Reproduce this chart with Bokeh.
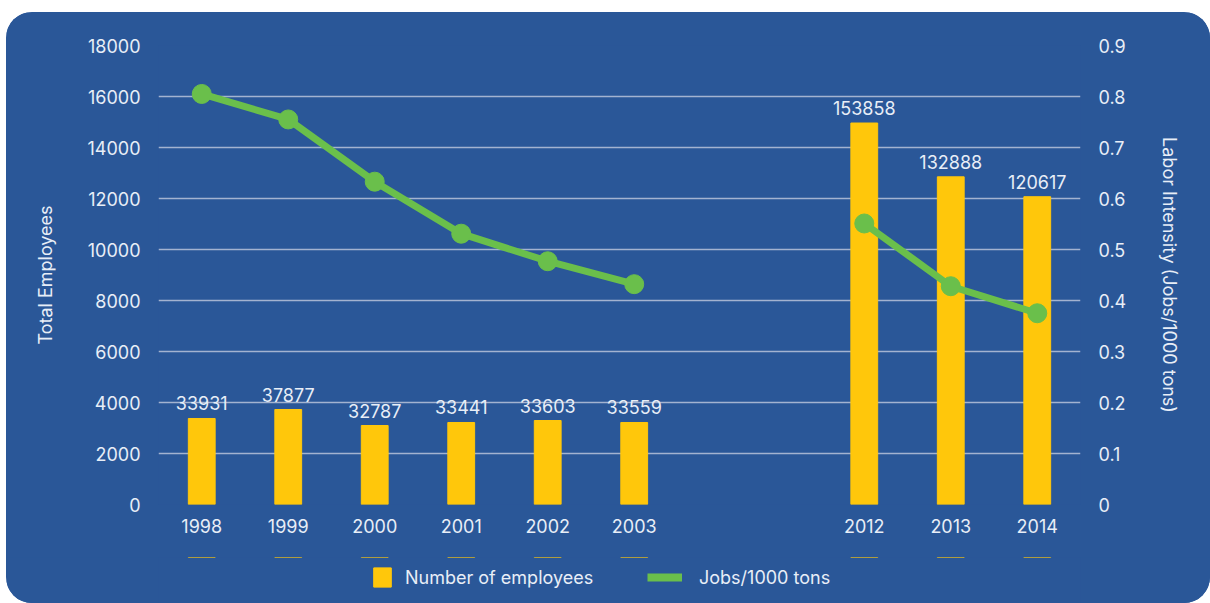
from bokeh.plotting import figure
from bokeh.layouts import column
from bokeh.models import (ColumnDataSource, FactorRange, Range1d, LinearAxis,
                          FixedTicker, CustomJSTickFormatter, Legend, LegendItem)
from bokeh.core.properties import value
from bokeh.embed import file_html
from bokeh.resources import INLINE

# ---- data ----
periods = ["A", "A", "A", "A", "A", "A", "B", "B", "B"]
years = ["1998", "1999", "2000", "2001", "2002", "2003", "2012", "2013", "2014"]
bar_heights = [3373, 3725, 3098, 3216, 3294, 3216, 14960, 12850, 12070]
employee_labels = ["33931", "37877", "32787", "33441", "33603", "33559",
                   "153858", "132888", "120617"]
jobs_per_1000t = [0.805, 0.755, 0.633, 0.531, 0.477, 0.432, 0.551, 0.428, 0.375]
left_ticks = [0, 2000, 4000, 6000, 8000, 10000, 12000, 14000, 16000, 18000]
right_ticks = [0, 0.1, 0.2, 0.3, 0.4, 0.5, 0.6, 0.7, 0.8, 0.9]
legend_labels = ["Number of employees", "Jobs/1000 tons"]

BG = "#2a5798"
YELLOW = "#ffc70b"
GREEN = "#6abf4b"
TXT = "#e8eef7"
GRID = "#a3b3d0"
FONT = "Inter"
FS = "18px"

x = list(zip(periods, years))
src = ColumnDataSource(dict(x=x, h=bar_heights, lab=employee_labels, j=jobs_per_1000t))

p = figure(width=1204, height=545, output_backend="svg", toolbar_location=None,
           x_range=FactorRange(factors=x, group_padding=1.66, range_padding=0),
           y_range=Range1d(0, 18000),
           min_border_left=152, min_border_right=130, min_border_top=33,
           min_border_bottom=53)
p.background_fill_color = BG
p.border_fill_color = BG
p.outline_line_color = None
p.extra_y_ranges = {"right": Range1d(0, 0.9)}

bars = p.vbar(x="x", top="h", width=0.31, source=src, color=YELLOW)
p.text(x="x", y="h", text="lab", source=src, text_align="center",
       text_baseline="bottom", y_offset=-8, text_color=TXT,
       text_font=value(FONT), text_font_size=FS)

for per in ["A", "B"]:
    idx = [i for i, pp in enumerate(periods) if pp == per]
    s = ColumnDataSource(dict(x=[x[i] for i in idx], j=[jobs_per_1000t[i] for i in idx]))
    p.line(x="x", y="j", source=s, y_range_name="right", line_color=GREEN, line_width=7)
    p.scatter(x="x", y="j", source=s, y_range_name="right", size=19, color=GREEN)

# axes
p.yaxis.ticker = FixedTicker(ticks=left_ticks)
p.yaxis.axis_label = "Total Employees"
ax_r = LinearAxis(y_range_name="right", axis_label="Labor Intensity (Jobs/1000 tons)",
                  ticker=FixedTicker(ticks=right_ticks),
                  formatter=CustomJSTickFormatter(code="return String(Math.round(tick*10)/10)"))
p.add_layout(ax_r, "right")

for ax in [p.yaxis[0], ax_r, p.xaxis[0]]:
    ax.axis_line_color = None
    ax.major_tick_line_color = None
    ax.minor_tick_line_color = None
    ax.major_label_text_color = TXT
    ax.major_label_text_font = FONT
    ax.major_label_text_font_size = FS
    ax.axis_label_text_color = TXT
    ax.axis_label_text_font = FONT
    ax.axis_label_text_font_size = FS
    ax.axis_label_text_font_style = "normal"

p.yaxis[0].major_label_standoff = 12
p.yaxis[0].axis_label_standoff = 28
ax_r.major_label_standoff = 12
ax_r.axis_label_standoff = 30
p.xaxis[0].major_label_standoff = 8
p.xaxis[0].group_text_font_size = "0px"
p.xaxis[0].group_text_color = None
p.xaxis[0].separator_line_color = None

p.xgrid.grid_line_color = None
p.ygrid.grid_line_color = GRID
p.ygrid.grid_line_width = 1.5

# legend strip (separate figure below the chart; its proxy marks sit far outside its view)
q = figure(width=1204, height=46, output_backend="svg", toolbar_location=None,
           x_range=p.x_range, y_range=Range1d(-2, -1),
           x_axis_type=None, y_axis_type=None, min_border=0)
q.background_fill_color = BG
q.border_fill_color = BG
q.outline_line_color = None
q.xgrid.visible = False
q.ygrid.visible = False
lb = q.vbar(x="x", top="h", bottom="h", width=0.31, source=src, color=YELLOW)
ll = q.line(x="x", y="h", source=src, line_color=GREEN, line_width=8)

common = dict(padding=0, margin=0, border_line_color=None, background_fill_alpha=0,
              label_text_color=TXT, label_text_font=FONT, label_text_font_size=FS,
              glyph_height=24)
leg1 = Legend(items=[LegendItem(label=legend_labels[0], renderers=[lb])],
              location=(213, 14), glyph_width=22, label_standoff=12, **common)
leg2 = Legend(items=[LegendItem(label=legend_labels[1], renderers=[ll])],
              location=(489, 14), glyph_width=35, label_standoff=17, **common)
q.add_layout(leg1, "center")
q.add_layout(leg2, "center")

lay = column(p, q, spacing=0)
lay.styles = {"margin-left": "6px", "margin-top": "12px", "border-radius": "26px",
              "overflow": "hidden", "background-color": BG}

open("out.html", "w").write(file_html(lay, INLINE))
